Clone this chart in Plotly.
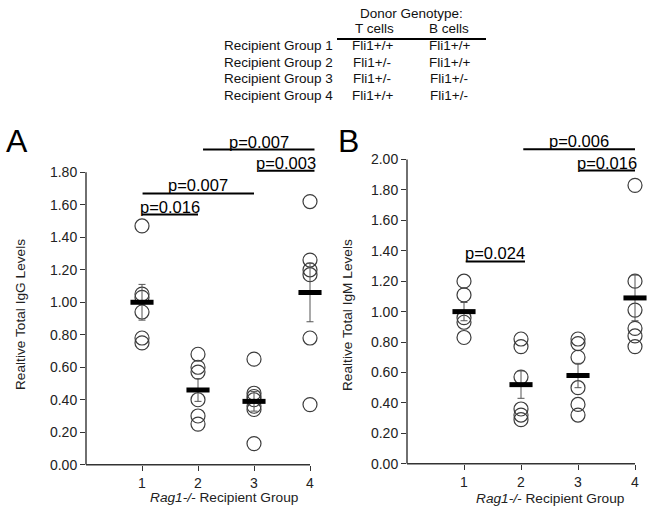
import plotly.graph_objects as go

W, H = 653, 519
FONT = "Liberation Sans, Arial, sans-serif"
AX = "#333333"

# ---------------- data ----------------
groups = [1, 2, 3, 4]
x_tick_labels = ["1", "2", "3", "4"]

igg_g1 = [1.47, 1.05, 1.03, 0.94, 0.78, 0.75]
igg_g2 = [0.68, 0.60, 0.57, 0.40, 0.30, 0.25]
igg_g3 = [0.65, 0.44, 0.42, 0.40, 0.36, 0.34, 0.13]
igg_g4 = [1.62, 1.26, 1.20, 1.17, 0.78, 0.37]
igg_mean = [1.00, 0.46, 0.39, 1.06]
igg_sem = [0.11, 0.07, 0.06, 0.18]
igg_yticks = [0.0, 0.2, 0.4, 0.6, 0.8, 1.0, 1.2, 1.4, 1.6, 1.8]

igm_g1 = [1.20, 1.11, 0.96, 0.93, 0.83]
igm_g2 = [0.82, 0.77, 0.57, 0.36, 0.32, 0.29]
igm_g3 = [0.82, 0.79, 0.70, 0.50, 0.39, 0.32]
igm_g4 = [1.83, 1.20, 1.01, 0.89, 0.84, 0.77]
igm_mean = [1.00, 0.52, 0.58, 1.09]
igm_sem = [0.06, 0.09, 0.08, 0.15]
igm_yticks = [0.0, 0.2, 0.4, 0.6, 0.8, 1.0, 1.2, 1.4, 1.6, 1.8, 2.0]

# significance brackets: (x start, x end, y, label)
igg_brackets = [(1.0, 2.0, 1.54, "p=0.016"),
                (1.01, 3.0, 1.67, "p=0.007"),
                (2.09, 4.08, 1.94, "p=0.007"),
                (3.08, 4.08, 1.81, "p=0.003")]
igm_brackets = [(1.03, 2.07, 1.33, "p=0.024"),
                (2.04, 4.0, 2.067, "p=0.006"),
                (3.02, 4.0, 1.927, "p=0.016")]

# table
table_title = "Donor Genotype:"
table_cols = ["T cells", "B cells"]
table_rows = ["Recipient Group 1", "Recipient Group 2", "Recipient Group 3", "Recipient Group 4"]
table_t = ["Fli1+/+", "Fli1+/-", "Fli1+/-", "Fli1+/+"]
table_b = ["Fli1+/+", "Fli1+/+", "Fli1+/-", "Fli1+/-"]

# ---------------- figure ----------------
fig = go.Figure()

def px_x(p):
    return p / W

def px_y(p):
    return 1 - p / H

panels = [
    dict(xa="x", ya="y", groups_vals=[igg_g1, igg_g2, igg_g3, igg_g4], mean=igg_mean, sem=igg_sem,
         yticks=igg_yticks, ymax_axis=1.8, brackets=igg_brackets),
    dict(xa="x2", ya="y2", groups_vals=[igm_g1, igm_g2, igm_g3, igm_g4], mean=igm_mean, sem=igm_sem,
         yticks=igm_yticks, ymax_axis=2.0, brackets=igm_brackets),
]

shapes = []
annotations = []

for pn in panels:
    xs, ys = [], []
    for g, vals in zip(groups, pn["groups_vals"]):
        xs += [g] * len(vals)
        ys += vals
    fig.add_trace(go.Scatter(
        x=xs, y=ys, xaxis=pn["xa"], yaxis=pn["ya"], mode="markers",
        marker=dict(symbol="circle-open", size=14, color="#3c3c3c", line=dict(width=1.2)),
        showlegend=False, hoverinfo="skip", cliponaxis=False))
    fig.add_trace(go.Scatter(
        x=groups, y=pn["mean"], xaxis=pn["xa"], yaxis=pn["ya"], mode="markers",
        marker=dict(symbol="line-ew", size=16.5, color="black", line=dict(width=5, color="black")),
        error_y=dict(type="data", array=pn["sem"], visible=True, width=3.5, thickness=1, color="#555555"),
        showlegend=False, hoverinfo="skip", cliponaxis=False))
    # axis lines
    shapes.append(dict(type="line", xref=pn["xa"] + " domain", x0=0, x1=0, yref=pn["ya"],
                       y0=0, y1=pn["ymax_axis"], line=dict(color=AX, width=1.4), layer="above"))
    shapes.append(dict(type="line", xref=pn["xa"], x0=0, x1=4, yref=pn["ya"] + " domain",
                       y0=0, y1=0, line=dict(color=AX, width=1.4), layer="above"))
    for (x0, x1, yv, lab) in pn["brackets"]:
        shapes.append(dict(type="line", xref=pn["xa"], yref=pn["ya"], x0=x0, x1=x1, y0=yv, y1=yv,
                           line=dict(color="black", width=2)))
        annotations.append(dict(xref=pn["xa"], yref=pn["ya"], x=(x0 + x1) / 2, y=yv, text=lab,
                                showarrow=False, yanchor="bottom", xanchor="center", yshift=-3,
                                font=dict(family=FONT, size=16.5, color="black")))

axis_common = dict(showgrid=False, zeroline=False, showline=False, ticks="outside", ticklen=5,
                   tickwidth=1.3, tickcolor=AX, tickfont=dict(family=FONT, size=14, color="#222"))

fig.update_layout(
    width=W, height=H, autosize=False,
    margin=dict(l=0, r=0, t=0, b=0),
    paper_bgcolor="white", plot_bgcolor="white",
    xaxis=dict(domain=[86 / W, (86 + 4.15 * 56) / W], range=[0, 4.15], anchor="y",
               tickvals=groups, ticktext=x_tick_labels, **axis_common),
    yaxis=dict(domain=[px_y(472), px_y(472 - 2.0 * 165)], range=[0, 2.0], anchor="x",
               tickvals=igg_yticks, tickformat=".2f", **axis_common),
    xaxis2=dict(domain=[407 / W, (407 + 4.15 * 57) / W], range=[0, 4.15], anchor="y2",
                tickvals=groups, ticktext=x_tick_labels, **axis_common),
    yaxis2=dict(domain=[px_y(471), px_y(471 - 2.15 * 154.5)], range=[0, 2.15], anchor="x2",
                tickvals=igm_yticks, tickformat=".2f", **axis_common),
)

def pa(xp, yp, text, size, xanchor="center", angle=0, color="#222"):
    return dict(xref="paper", yref="paper", x=px_x(xp), y=px_y(yp), text=text,
                xanchor=xanchor, yanchor="middle", textangle=angle, showarrow=False,
                font=dict(family=FONT, size=size, color=color))

# axis titles and panel letters
annotations += [
    pa(224, 505, "<i>Rag1-/-</i> Recipient Group", 13.7),
    pa(550, 506, "<i>Rag1-/-</i> Recipient Group", 13.7),
    pa(20, 320, "Realtive Total IgG Levels", 13.7, angle=-90),
    pa(347, 320, "Realtive Total IgM Levels", 13.7, angle=-90),
    pa(17, 143, "A", 32, color="black"),
    pa(348, 143, "B", 32, color="black"),
]

# table
annotations.append(pa(411, 14, table_title, 13.5, color="#111"))
for cx, lab in zip([374, 449], table_cols):
    annotations.append(pa(cx, 29, lab, 13.5, color="#111"))
shapes.append(dict(type="line", xref="paper", yref="paper", x0=px_x(337), x1=px_x(486),
                   y0=px_y(39.5), y1=px_y(39.5), line=dict(color="black", width=2)))
row_y = [46.7, 63.3, 80, 96.7]
for ry, rl, t, b in zip(row_y, table_rows, table_t, table_b):
    annotations.append(pa(222, ry, rl, 13.5, xanchor="left", color="#111"))
    annotations.append(pa(372, ry, t, 13.5, color="#111"))
    annotations.append(pa(449, ry, b, 13.5, color="#111"))

fig.update_layout(shapes=shapes, annotations=annotations)
fig.write_html("out.html", config={"displayModeBar": False},
               post_script="document.body.style.margin='0px';")
